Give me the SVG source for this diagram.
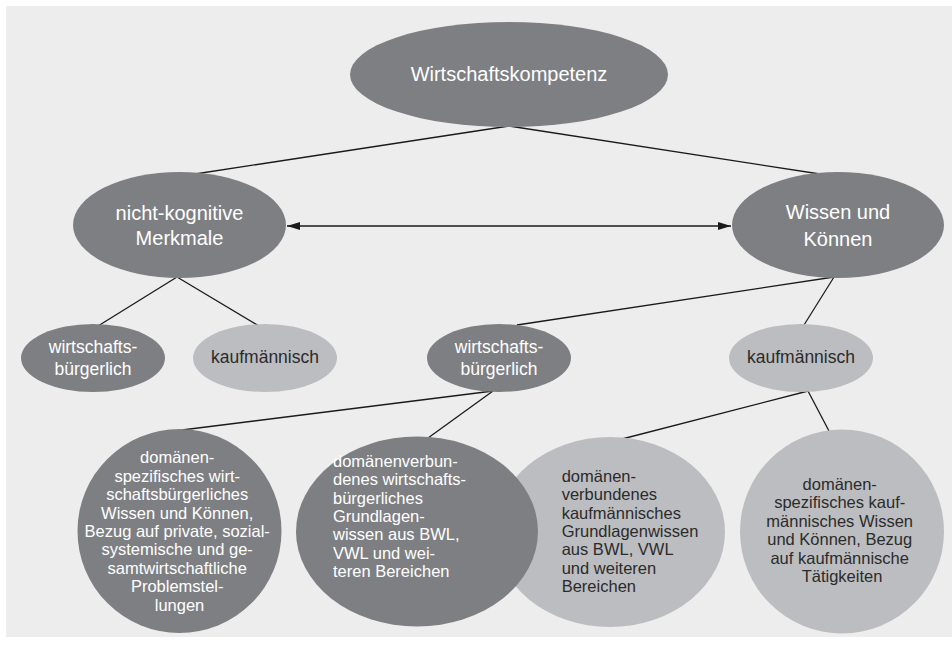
<svg xmlns="http://www.w3.org/2000/svg" width="952" height="647" viewBox="0 0 952 647">
  <style>
    .dark { fill: #7e7f83; }
    .light { fill: #bcbdc0; }
    .conn { stroke: #1a1a1a; stroke-width: 1.3; fill: none; }
    text { font-family: "Liberation Sans", Arial, sans-serif; }
    .tw { fill: #ffffff; }
    .tb { fill: #2b2b2b; }
    .big { font-size: 20px; }
    .mid { font-size: 17.5px; }
    .sm { font-size: 16.5px; }
  </style>
  <defs>
    <marker id="ah" markerUnits="userSpaceOnUse" markerWidth="14" markerHeight="9" refX="13" refY="4" orient="auto-start-reverse">
      <path d="M0,0 L13,4 L0,8 z" fill="#1a1a1a"/>
    </marker>
  </defs>
  <rect x="6" y="6" width="946" height="631" fill="#ededed"/>

  <g id="connectors">
    <line class="conn" x1="509" y1="126" x2="195" y2="174"/>
    <line class="conn" x1="509" y1="126" x2="820" y2="174"/>
    <line class="conn" x1="287" y1="226" x2="731" y2="226" marker-start="url(#ah)" marker-end="url(#ah)"/>
    <line class="conn" x1="177" y1="277" x2="98" y2="326"/>
    <line class="conn" x1="177" y1="277" x2="259" y2="326"/>
    <line class="conn" x1="834" y1="277" x2="517" y2="325"/>
    <line class="conn" x1="834" y1="277" x2="804" y2="325"/>
    <line class="conn" x1="493" y1="391" x2="182" y2="430"/>
    <line class="conn" x1="493" y1="391" x2="428" y2="438"/>
    <line class="conn" x1="808" y1="391" x2="622" y2="439"/>
    <line class="conn" x1="808" y1="391" x2="829" y2="431"/>
  </g>

  <g id="n-wirtschaftskompetenz">
    <ellipse class="dark" cx="509" cy="74.5" rx="159" ry="52.5"/>
    <text class="tw big" x="509" y="81" text-anchor="middle">Wirtschaftskompetenz</text>
  </g>

  <g id="n-nichtkognitiv">
    <ellipse class="dark" cx="179.5" cy="225" rx="106.5" ry="53"/>
    <text class="tw big" x="179.5" y="220" text-anchor="middle">nicht-kognitive</text>
    <text class="tw big" x="179.5" y="245" text-anchor="middle">Merkmale</text>
  </g>

  <g id="n-wissen">
    <ellipse class="dark" cx="838" cy="225" rx="106" ry="53"/>
    <text class="tw big" x="838" y="219" text-anchor="middle">Wissen und</text>
    <text class="tw big" x="838" y="246" text-anchor="middle">Können</text>
  </g>

  <g id="n-nk-wb">
    <ellipse class="dark" cx="93" cy="358" rx="72" ry="34"/>
    <text class="tw mid" x="93" y="352.7" text-anchor="middle">wirtschafts-</text>
    <text class="tw mid" x="93" y="375" text-anchor="middle">bürgerlich</text>
  </g>

  <g id="n-nk-kfm">
    <ellipse class="light" cx="265" cy="358" rx="72" ry="34"/>
    <text class="tb mid" x="265" y="362.7" text-anchor="middle">kaufmännisch</text>
  </g>

  <g id="n-wk-wb">
    <ellipse class="dark" cx="499" cy="358" rx="72" ry="34"/>
    <text class="tw mid" x="499" y="352.7" text-anchor="middle">wirtschafts-</text>
    <text class="tw mid" x="499" y="375" text-anchor="middle">bürgerlich</text>
  </g>

  <g id="n-wk-kfm">
    <ellipse class="light" cx="801" cy="358" rx="72" ry="34"/>
    <text class="tb mid" x="801" y="362.7" text-anchor="middle">kaufmännisch</text>
  </g>

  <g id="n-wb-spezifisch">
    <ellipse class="dark" cx="179.5" cy="531" rx="102" ry="102"/>
    <text class="tw sm" text-anchor="middle">
      <tspan x="179.5" y="463.3">domänen-</tspan>
      <tspan x="179.5" y="481.7">spezifisches wirt-</tspan>
      <tspan x="179.5" y="500.1">schaftsbürgerliches</tspan>
      <tspan x="179.5" y="518.5">Wissen und Können,</tspan>
      <tspan x="179.5" y="536.9">Bezug auf private, sozial-</tspan>
      <tspan x="179.5" y="555.3">systemische und ge-</tspan>
      <tspan x="179.5" y="573.7">samtwirtschaftliche</tspan>
      <tspan x="179.5" y="592.1">Problemstel-</tspan>
      <tspan x="179.5" y="610.5">lungen</tspan>
    </text>
  </g>

  <g id="n-kfm-verbunden">
    <ellipse class="light" cx="610" cy="532" rx="115" ry="95"/>
    <text class="tb sm">
      <tspan x="561.7" y="481.7">domänen-</tspan>
      <tspan x="561.7" y="500.1">verbundenes</tspan>
      <tspan x="561.7" y="518.5">kaufmännisches</tspan>
      <tspan x="561.7" y="536.9">Grundlagenwissen</tspan>
      <tspan x="561.7" y="555.3">aus BWL, VWL</tspan>
      <tspan x="561.7" y="573.7">und weiteren</tspan>
      <tspan x="561.7" y="592.1">Bereichen</tspan>
    </text>
  </g>

  <g id="n-wb-verbunden">
    <ellipse class="dark" cx="417" cy="531.5" rx="121" ry="95"/>
    <text class="tw sm">
      <tspan x="333" y="466.7">domänenverbun-</tspan>
      <tspan x="333" y="485.1">denes wirtschafts-</tspan>
      <tspan x="333" y="503.5">bürgerliches</tspan>
      <tspan x="333" y="521.9">Grundlagen-</tspan>
      <tspan x="333" y="540.3">wissen aus BWL,</tspan>
      <tspan x="333" y="558.7">VWL und wei-</tspan>
      <tspan x="333" y="577.1">teren Bereichen</tspan>
    </text>
  </g>

  <g id="n-kfm-spezifisch">
    <ellipse class="light" cx="842" cy="531.5" rx="102" ry="102"/>
    <text class="tb sm" text-anchor="middle">
      <tspan x="842" y="490">domänen-</tspan>
      <tspan x="842" y="508.4">spezifisches kauf-</tspan>
      <tspan x="842" y="526.8">männisches Wissen</tspan>
      <tspan x="842" y="545.2">und Können, Bezug</tspan>
      <tspan x="842" y="563.6">auf kaufmännische</tspan>
      <tspan x="842" y="582">Tätigkeiten</tspan>
    </text>
  </g>
</svg>
